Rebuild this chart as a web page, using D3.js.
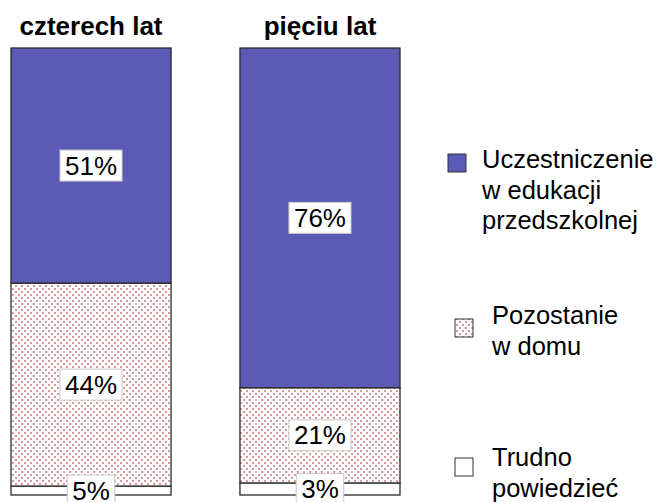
<!DOCTYPE html>
<html>
<head>
<meta charset="utf-8">
<script src="https://cdn.jsdelivr.net/npm/d3@7"></script>
<style>
  body { margin: 0; background: #fff; }
  svg { display: block; font-family: Arial, "Liberation Sans", sans-serif; }
</style>
</head>
<body>
<svg id="chart"></svg>
<script>
// categories (bar titles)
const categories = ["czterech lat", "pięciu lat"];
// segment values as drawn (bottom-up order is white, dotted, blue)
const edukacja = [52.6, 76.0];
const dom = [45.4, 21.3];
const trudno = [2.0, 2.7];
// printed percentage labels
const edukacjaLabels = ["51%", "76%"];
const domLabels = ["44%", "21%"];
const trudnoLabels = ["5%", "3%"];
// legend
const legendNames = [
  ["Uczestniczenie", "w edukacji", "przedszkolnej"],
  ["Pozostanie", "w domu"],
  ["Trudno", "powiedzieć"]
];

const width = 661, height = 502;
const svg = d3.select("#chart").attr("width", width).attr("height", height);

const defs = svg.append("defs");
const pat = defs.append("pattern")
    .attr("id", "dots")
    .attr("patternUnits", "userSpaceOnUse")
    .attr("width", 6).attr("height", 6);
pat.append("rect").attr("width", 6).attr("height", 6).attr("fill", "#fff");
pat.append("rect").attr("x", 0).attr("y", 0).attr("width", 2).attr("height", 2).attr("fill", "#d89a9a");
pat.append("rect").attr("x", 3).attr("y", 3).attr("width", 2).attr("height", 2).attr("fill", "#d89a9a");

const x = d3.scaleBand().domain(categories).range([11, 400]).paddingInner(0.301).paddingOuter(0);
const y = d3.scaleLinear().domain([0, 100]).range([495, 48]);

const seriesKeys = ["trudno", "dom", "edukacja"];
const rows = categories.map((c, i) => ({
  cat: c,
  trudno: trudno[i], dom: dom[i], edukacja: edukacja[i],
  labels: { trudno: trudnoLabels[i], dom: domLabels[i], edukacja: edukacjaLabels[i] }
}));
const stacked = d3.stack().keys(seriesKeys)(rows);
const fills = { edukacja: "#5b5bb6", dom: "url(#dots)", trudno: "#fff" };

const bars = svg.append("g");
stacked.forEach(layer => {
  bars.append("g")
    .selectAll("rect")
    .data(layer)
    .join("rect")
      .attr("x", d => x(d.data.cat))
      .attr("width", x.bandwidth())
      .attr("y", d => y(d[1]))
      .attr("height", d => y(d[0]) - y(d[1]))
      .attr("fill", fills[layer.key])
      .attr("stroke", "#2a2a2a")
      .attr("stroke-width", 1.3);
});

// value labels in boxes (bottom ones are cut by the edge, as in the original)
const labelG = svg.append("g");
stacked.forEach(layer => {
  layer.forEach(d => {
    const cx = x(d.data.cat) + x.bandwidth() / 2;
    const cy = (y(d[0]) + y(d[1])) / 2;
    const g = labelG.append("g");
    const box = g.append("rect");
    const t = g.append("text")
        .attr("x", cx)
        .attr("y", cy + 9)
        .attr("text-anchor", "middle")
        .attr("font-size", 26)
        .attr("fill", "#000")
        .text(d.data.labels[layer.key]);
    const w = t.node().getComputedTextLength() + 10;
    box.attr("x", cx - w / 2).attr("y", cy - 15.5)
      .attr("width", w).attr("height", 31)
      .attr("fill", "#fff").attr("stroke", "#c8c8c8").attr("stroke-width", 1);
  });
});

// titles
svg.append("g")
  .selectAll("text")
  .data(categories)
  .join("text")
    .attr("x", d => x(d) + x.bandwidth() / 2)
    .attr("y", 35)
    .attr("text-anchor", "middle")
    .attr("font-size", 26)
    .attr("font-weight", "bold")
    .text(d => d);

// legend
const legendItems = [
  { fill: fills.edukacja, mx: 448, my: 154, tx: 482, ty: 168, lines: legendNames[0] },
  { fill: fills.dom, mx: 455, my: 319, tx: 492, ty: 324, lines: legendNames[1] },
  { fill: fills.trudno, mx: 455, my: 458, tx: 492, ty: 466, lines: legendNames[2] }
];
const leg = svg.append("g");
legendItems.forEach(it => {
  leg.append("rect")
    .attr("x", it.mx).attr("y", it.my)
    .attr("width", 18).attr("height", 18)
    .attr("fill", it.fill)
    .attr("stroke", "#333").attr("stroke-width", 1);
  const t = leg.append("text").attr("font-size", 25.5).attr("fill", "#000");
  it.lines.forEach((l, i) => {
    t.append("tspan").attr("x", it.tx).attr("y", it.ty + i * 30.5).text(l);
  });
});
</script>
</body>
</html>
